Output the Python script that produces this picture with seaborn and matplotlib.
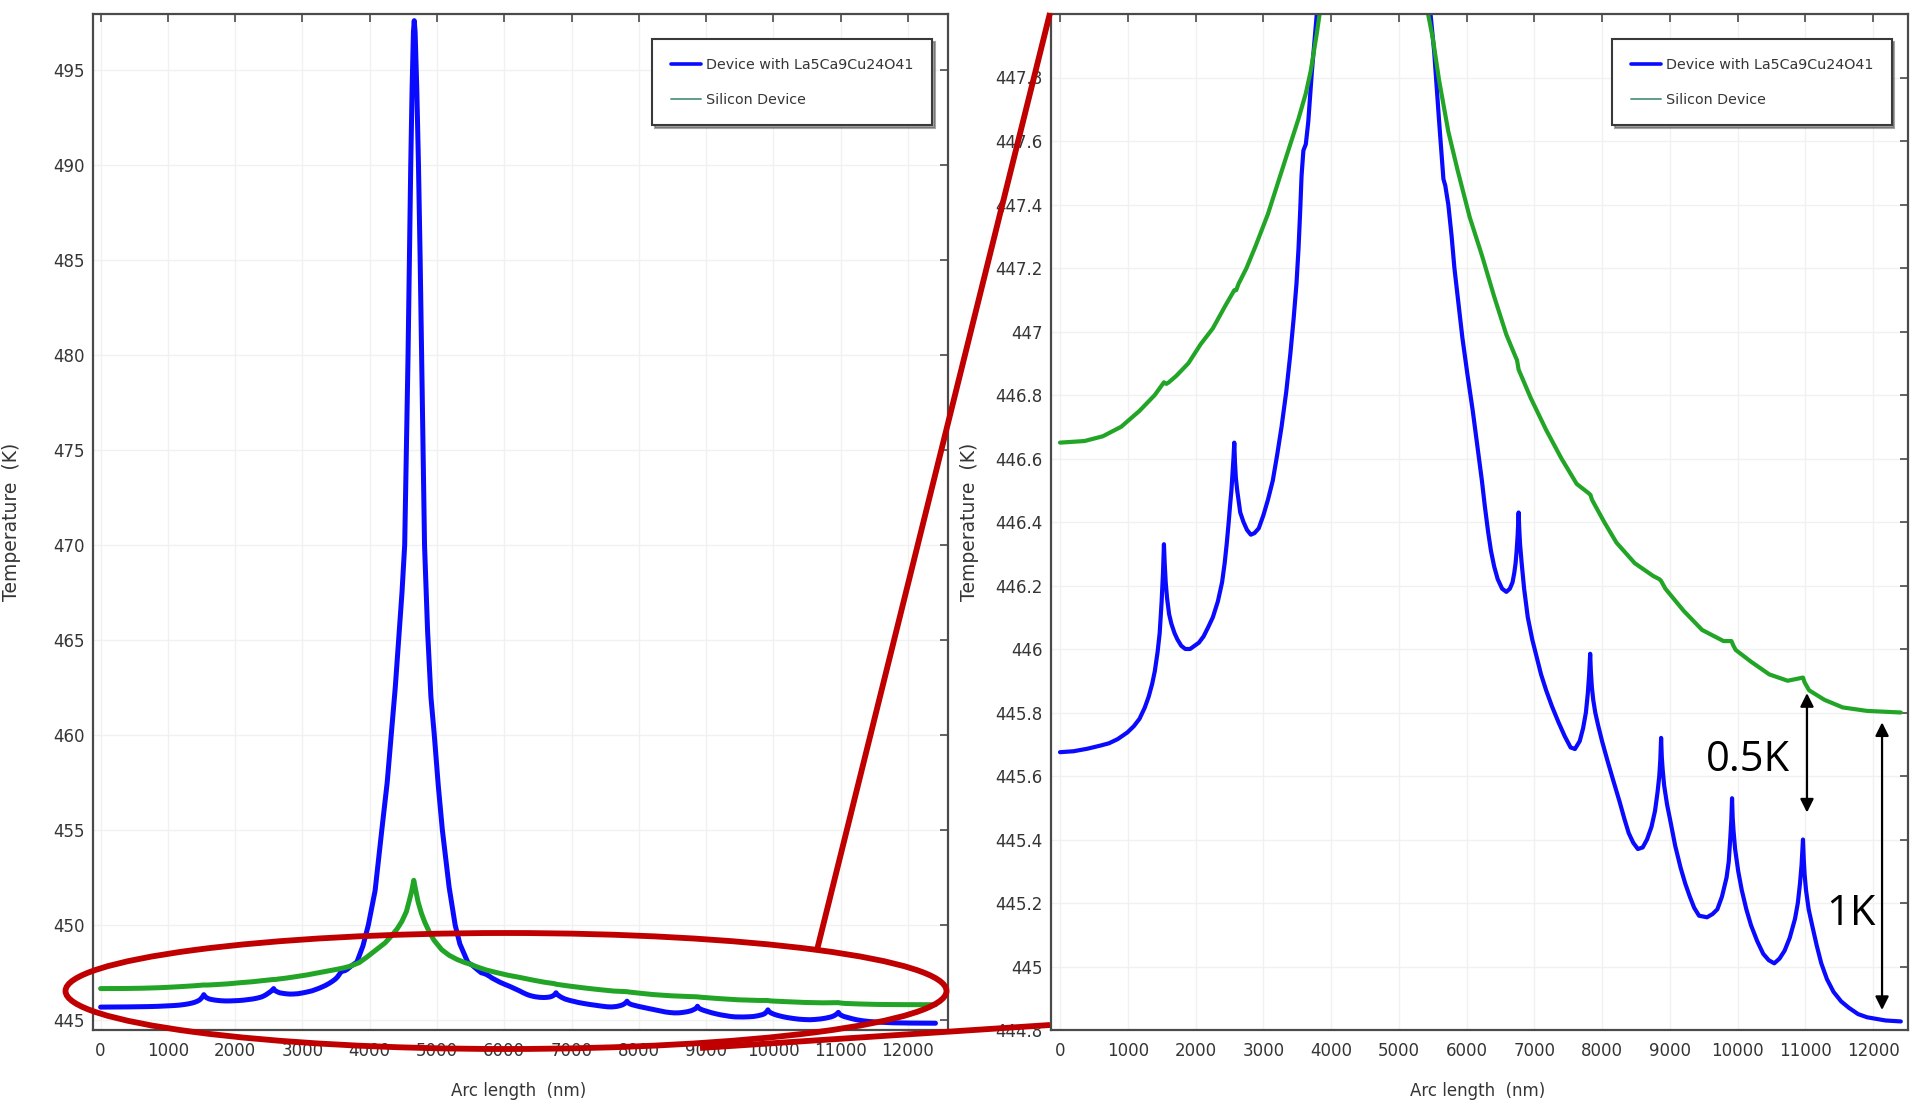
import matplotlib
matplotlib.use("Agg")
import matplotlib.pyplot as plt
import seaborn as sns
import pandas as pd
from matplotlib import font_manager as fm
from matplotlib.patches import Ellipse
from matplotlib.lines import Line2D
from matplotlib.ticker import FixedLocator, FuncFormatter

# ---------------- data ----------------
blue_x = [0, 200, 406, 600, 722, 850, 993, 1090, 1173, 1250, 1309, 1360, 1399, 1440, 1471,
          1500, 1520, 1534, 1545, 1560, 1580, 1610, 1643, 1690, 1733, 1790, 1850, 1920, 1986,
          2050, 2120, 2190, 2256, 2330, 2392, 2430, 2460, 2490, 2509, 2530, 2545, 2560, 2572,
          2582, 2595, 2615, 2640, 2660, 2708, 2760, 2816, 2870, 2933, 3000, 3069, 3140, 3204,
          3270, 3339, 3400, 3448, 3490, 3520, 3545, 3565, 3592, 3628, 3664, 3718, 3773, 3810,
          3900, 3980, 4080, 4180, 4260, 4320, 4380, 4430, 4480, 4520, 4545, 4570, 4590, 4610,
          4630, 4650, 4662, 4675, 4700, 4725, 4750, 4772, 4795, 4815, 4860, 4910, 4960, 5020,
          5080, 5180, 5270, 5340, 5460, 5523, 5596, 5659, 5686, 5731, 5780, 5821, 5880, 5939,
          6010, 6092, 6160, 6227, 6270, 6318, 6360, 6408, 6460, 6525, 6588, 6640, 6679, 6705,
          6724, 6740, 6755, 6769, 6778, 6790, 6814, 6850, 6904, 6970, 7040, 7100, 7175, 7260,
          7356, 7450, 7536, 7600, 7671, 7720, 7762, 7790, 7810, 7825, 7835, 7850, 7870, 7900,
          7942, 8000, 8078, 8160, 8258, 8330, 8394, 8460, 8529, 8600, 8664, 8730, 8782, 8820,
          8845, 8860, 8872, 8882, 8895, 8917, 8960, 9007, 9080, 9161, 9230, 9296, 9360, 9432,
          9549, 9630, 9702, 9770, 9838, 9870, 9892, 9908, 9919, 9928, 9940, 9964, 10010, 10063,
          10130, 10199, 10290, 10379, 10460, 10542, 10620, 10695, 10770, 10848, 10890, 10921,
          10945, 10966, 10977, 10990, 11011, 11050, 11101, 11170, 11236, 11320, 11417, 11530,
          11643, 11780, 11913, 12050, 12184, 12410]
blue_T = [445.675, 445.678, 445.686, 445.696, 445.703, 445.716, 445.737, 445.757, 445.78,
          445.815, 445.85, 445.89, 445.93, 445.99, 446.05, 446.15, 446.24, 446.33, 446.27,
          446.21, 446.16, 446.11, 446.08, 446.05, 446.03, 446.01, 446.0, 446.0, 446.01, 446.02,
          446.04, 446.07, 446.10, 446.15, 446.21, 446.27, 446.33, 446.40, 446.45, 446.50,
          446.55, 446.60, 446.65, 446.59, 446.54, 446.50, 446.46, 446.43, 446.40, 446.375,
          446.36, 446.365, 446.38, 446.42, 446.47, 446.53, 446.61, 446.70, 446.81, 446.93,
          447.04, 447.15, 447.26, 447.38, 447.49, 447.57, 447.59, 447.66, 447.82, 447.96,
          448.05, 448.9, 450.0, 451.8, 455.0, 457.5, 460.0, 462.5, 465.0, 467.5, 470.0, 475.0,
          480.0, 485.0, 490.0, 494.0, 497.0, 497.6, 497.0, 494.0, 490.0, 485.0, 480.0, 475.0,
          470.0, 465.5, 462.0, 460.0, 457.3, 455.0, 452.0, 450.0, 449.0, 448.02, 447.88,
          447.66, 447.48, 447.46, 447.40, 447.30, 447.20, 447.09, 446.98, 446.87, 446.75,
          446.64, 446.53, 446.45, 446.37, 446.31, 446.26, 446.22, 446.19, 446.18, 446.19,
          446.21, 446.24, 446.27, 446.31, 446.36, 446.43, 446.38, 446.33, 446.27, 446.19,
          446.10, 446.03, 445.97, 445.92, 445.87, 445.82, 445.77, 445.725, 445.69, 445.685,
          445.71, 445.75, 445.80, 445.86, 445.92, 445.985, 445.93, 445.88, 445.84, 445.80,
          445.76, 445.71, 445.65, 445.59, 445.52, 445.465, 445.42, 445.39, 445.37, 445.375,
          445.40, 445.44, 445.49, 445.55, 445.60, 445.65, 445.72, 445.66, 445.62, 445.57,
          445.51, 445.46, 445.38, 445.31, 445.26, 445.22, 445.185, 445.16, 445.155, 445.165,
          445.18, 445.22, 445.28, 445.33, 445.40, 445.46, 445.53, 445.47, 445.43, 445.37,
          445.30, 445.24, 445.18, 445.13, 445.08, 445.04, 445.02, 445.01, 445.025, 445.05,
          445.09, 445.15, 445.20, 445.26, 445.32, 445.40, 445.34, 445.29, 445.24, 445.18,
          445.13, 445.065, 445.01, 444.96, 444.92, 444.89, 444.87, 444.85, 444.84, 444.835,
          444.83, 444.827]

green_x = [0, 361, 632, 903, 1173, 1399, 1534, 1570, 1606, 1715, 1895, 2076, 2256, 2437, 2572,
           2600, 2635, 2753, 2888, 3069, 3249, 3384, 3520, 3628, 3700, 3791, 3845, 3955, 4100,
           4227, 4330, 4409, 4480, 4545, 4590, 4625, 4655, 4685, 4720, 4770, 4818, 4890, 4955,
           5070, 5182, 5300, 5415, 5505, 5596, 5731, 5866, 6047, 6227, 6408, 6588, 6724, 6745,
           6769, 6949, 7175, 7401, 7626, 7807, 7830, 7852, 8032, 8213, 8484, 8755, 8845, 8870,
           8935, 9206, 9477, 9793, 9910, 9940, 9973, 10199, 10469, 10740, 10966, 10990, 11056,
           11282, 11552, 11913, 12410]
green_T = [446.65, 446.655, 446.67, 446.70, 446.75, 446.80, 446.84, 446.835, 446.84, 446.86,
           446.90, 446.96, 447.01, 447.08, 447.13, 447.13, 447.15, 447.20, 447.27, 447.37,
           447.49, 447.58, 447.67, 447.75, 447.82, 447.94, 448.02, 448.3, 448.7, 449.05, 449.45,
           449.8, 450.2, 450.7, 451.3, 451.8, 452.35, 451.8, 451.2, 450.6, 450.15, 449.6, 449.2,
           448.7, 448.4, 448.18, 448.02, 447.92, 447.79, 447.63, 447.51, 447.36, 447.24, 447.11,
           446.99, 446.92, 446.91, 446.88, 446.79, 446.69, 446.60, 446.52, 446.49, 446.485,
           446.47, 446.40, 446.335, 446.27, 446.23, 446.22, 446.215, 446.19, 446.12, 446.06,
           446.025, 446.025, 446.01, 445.997, 445.96, 445.92, 445.90, 445.91, 445.895, 445.87,
           445.84, 445.816, 445.805, 445.80]

series_names = ["Device with La5Ca9Cu24O41", "Silicon Device"]
x_ticks = [0, 1000, 2000, 3000, 4000, 5000, 6000, 7000, 8000, 9000, 10000, 11000, 12000]
left_y_ticks = [445, 450, 455, 460, 465, 470, 475, 480, 485, 490, 495]
right_y_ticks = [444.8, 445.0, 445.2, 445.4, 445.6, 445.8, 446.0, 446.2, 446.4, 446.6,
                 446.8, 447.0, 447.2, 447.4, 447.6, 447.8]
x_label = "Arc length  (nm)"
y_label = "Temperature  (K)"

# ---------------- style ----------------
sns.set_style("white")
avail = {f.name for f in fm.fontManager.ttflist}
NARROW = "Liberation Sans Narrow" if "Liberation Sans Narrow" in avail else None
plt.rcParams["font.family"] = ["DejaVu Sans"]
if NARROW:
    tick_font = [NARROW, "DejaVu Sans"]
    tick_fs, leg_fs, xl_fs = 15, 13.5, 14.5
else:
    tick_font = ["DejaVu Sans"]
    tick_fs, leg_fs, xl_fs = 12, 10.3, 12
ann_font = ["Open Sans", "DejaVu Sans"] if "Open Sans" in avail else ["DejaVu Sans"]

BLUE = "#0a0aff"
GREEN = "#22a526"
RED = "#c00000"
TXT = "#353535"

df = pd.concat([
    pd.DataFrame({"x": blue_x, "T": blue_T, "series": series_names[0]}),
    pd.DataFrame({"x": green_x, "T": green_T, "series": series_names[1]}),
], ignore_index=True)

W, H = 1915, 1102
fig = plt.figure(figsize=(W / 100, H / 100), dpi=100)
fig.patch.set_facecolor("white")

ax1 = fig.add_axes([93 / W, (H - 1030) / H, 855 / W, 1016 / H])
ax2 = fig.add_axes([1051 / W, (H - 1030) / H, 857 / W, 1016 / H])


def fmt(v, pos=None):
    return ("%.1f" % v).rstrip("0").rstrip(".")


for ax, lw, xlim, ylim, yt in [
    (ax1, 3.6, (-113, 12596), (444.47, 497.95), left_y_ticks),
    (ax2, 3.0, (-133, 12516), (444.8, 448.0), right_y_ticks),
]:
    sns.lineplot(data=df, x="x", y="T", hue="series", palette=[BLUE, GREEN],
                 sort=False, estimator=None, legend=False, lw=lw, ax=ax)
    ax.set_xlim(*xlim)
    ax.set_ylim(*ylim)
    ax.xaxis.set_major_locator(FixedLocator(x_ticks))
    ax.yaxis.set_major_locator(FixedLocator(yt))
    ax.yaxis.set_major_formatter(FuncFormatter(fmt))
    ax.grid(True, color="#f1f1f1", lw=1.0)
    ax.set_axisbelow(True)
    for s in ax.spines.values():
        s.set_visible(True)
        s.set_color("#4a4a4a")
        s.set_linewidth(1.6)
    ax.tick_params(direction="in", length=6, width=1.2, color="#4a4a4a",
                   top=True, right=True, labelsize=tick_fs, labelcolor=TXT)
    ax.tick_params(axis="x", pad=9)
    ax.tick_params(axis="y", pad=6)
    for lab in ax.get_xticklabels() + ax.get_yticklabels():
        lab.set_family(tick_font)
    ax.set_xlabel(x_label, fontsize=xl_fs, family=tick_font, color=TXT)
    ax.set_ylabel(y_label, fontsize=13.5, color=TXT)
    ax.xaxis.set_label_coords(0.498, -0.051)
    ax.yaxis.set_label_coords(-0.084, 0.50)
    handles = [Line2D([], [], color=BLUE, lw=2.6),
               Line2D([], [], color="#5f9e86", lw=1.4)]
    leg = ax.legend(handles, series_names, loc="upper right",
                    bbox_to_anchor=(0.981, 0.975), borderaxespad=0.0, frameon=True,
                    fancybox=False, shadow=True,
                    prop={"family": tick_font, "size": leg_fs},
                    handlelength=2.1, handletextpad=0.35, labelspacing=1.45,
                    borderpad=1.3, labelcolor=TXT)
    leg.get_frame().set_edgecolor("#3a3a3a")
    leg.get_frame().set_linewidth(1.5)

# ---------------- annotations on the zoomed panel ----------------
arrow_kw = dict(arrowstyle="<|-|>", color="black", lw=1.6, mutation_scale=20,
                shrinkA=0, shrinkB=0)
ax2.annotate("", xy=(11025, 445.861), xytext=(11025, 445.485), arrowprops=arrow_kw)
ax2.annotate("", xy=(12133, 445.769), xytext=(12133, 444.863), arrowprops=arrow_kw)
ax2.text(10155, 445.649, "0.5K", fontsize=30, family=ann_font, color="black",
         ha="center", va="center")
ax2.text(11675, 445.166, "1K", fontsize=30, family=ann_font, color="black",
         ha="center", va="center")

# ---------------- red zoom marker ----------------
ell = Ellipse((506 / W, 1 - 991 / H), 881 / W, 116 / H, transform=fig.transFigure,
              fill=False, edgecolor=RED, lw=4.2, zorder=10)
fig.add_artist(ell)
fig.add_artist(Line2D([817 / W, 1050 / W], [1 - 950 / H, 1 - 13 / H],
                      transform=fig.transFigure, color=RED, lw=4.2, zorder=10,
                      solid_capstyle="butt"))
fig.add_artist(Line2D([700 / W, 1050 / W], [1 - 1048 / H, 1 - 1025 / H],
                      transform=fig.transFigure, color=RED, lw=4.2, zorder=10,
                      solid_capstyle="butt"))

fig.savefig("out.png", dpi=100, facecolor="white")
